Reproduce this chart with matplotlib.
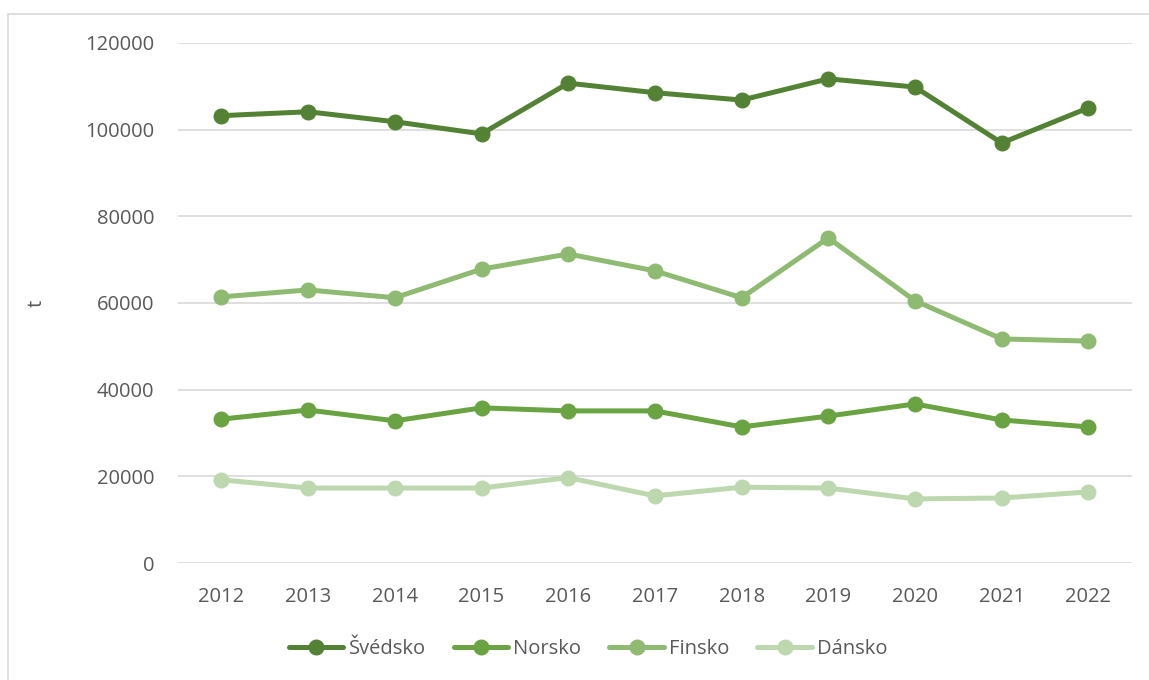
import matplotlib.pyplot as plt
from matplotlib.patches import Rectangle

years = ['2012', '2013', '2014', '2015', '2016', '2017', '2018', '2019', '2020', '2021', '2022']

svedsko = [103200, 104100, 101800, 99000, 110700, 108500, 106800, 111700, 109800, 96900, 105000]
norsko = [33200, 35300, 32800, 35800, 35100, 35100, 31400, 33900, 36700, 33000, 31400]
finsko = [61400, 63000, 61200, 67800, 71300, 67400, 61200, 75000, 60500, 51700, 51200]
dansko = [19200, 17300, 17300, 17300, 19700, 15500, 17500, 17300, 14800, 15000, 16400]

series = [('Švédsko', svedsko, '#548235'),
          ('Norsko', norsko, '#6AA342'),
          ('Finsko', finsko, '#8FBA72'),
          ('Dánsko', dansko, '#BDD8AE')]

plt.rcParams['font.family'] = ['Open Sans', 'DejaVu Sans']
txt = '#595959'
fs = 14.5

fig = plt.figure(figsize=(11.49, 6.8), dpi=100)
ax = fig.add_axes([0.155, 0.172, 0.83, 0.765])

x = range(len(years))
for name, vals, col in series:
    ax.plot(x, vals, color=col, linewidth=3.6, marker='o', markersize=10.5,
            solid_capstyle='round', label=name)

ax.set_xlim(-0.5, len(years) - 0.5)
ax.set_ylim(0, 120000)
ax.set_yticks(range(0, 120001, 20000))
ax.set_xticks(list(x))
ax.set_xticklabels(years)
ax.tick_params(colors=txt, labelsize=fs, length=0)
ax.tick_params(axis='x', pad=17)
ax.tick_params(axis='y', pad=17)
ax.grid(axis='y', color='#D9D9D9', linewidth=1.2)
ax.set_axisbelow(True)
for s in ax.spines.values():
    s.set_visible(False)
ax.set_ylabel('t', color=txt, fontsize=fs, labelpad=28)

ax.legend(loc='upper center', bbox_to_anchor=(0.43, -0.112), ncol=4, frameon=False,
          fontsize=fs, labelcolor=txt, handlelength=2.7, handletextpad=0.25,
          columnspacing=1.4)

fig.patches.append(Rectangle((8 / 1149, -0.1), 1.2, 1 - 14 / 680 + 0.1,
                             transform=fig.transFigure, fill=False,
                             edgecolor='#D9D9D9', linewidth=1.2))

fig.savefig('out.png', dpi=100)
